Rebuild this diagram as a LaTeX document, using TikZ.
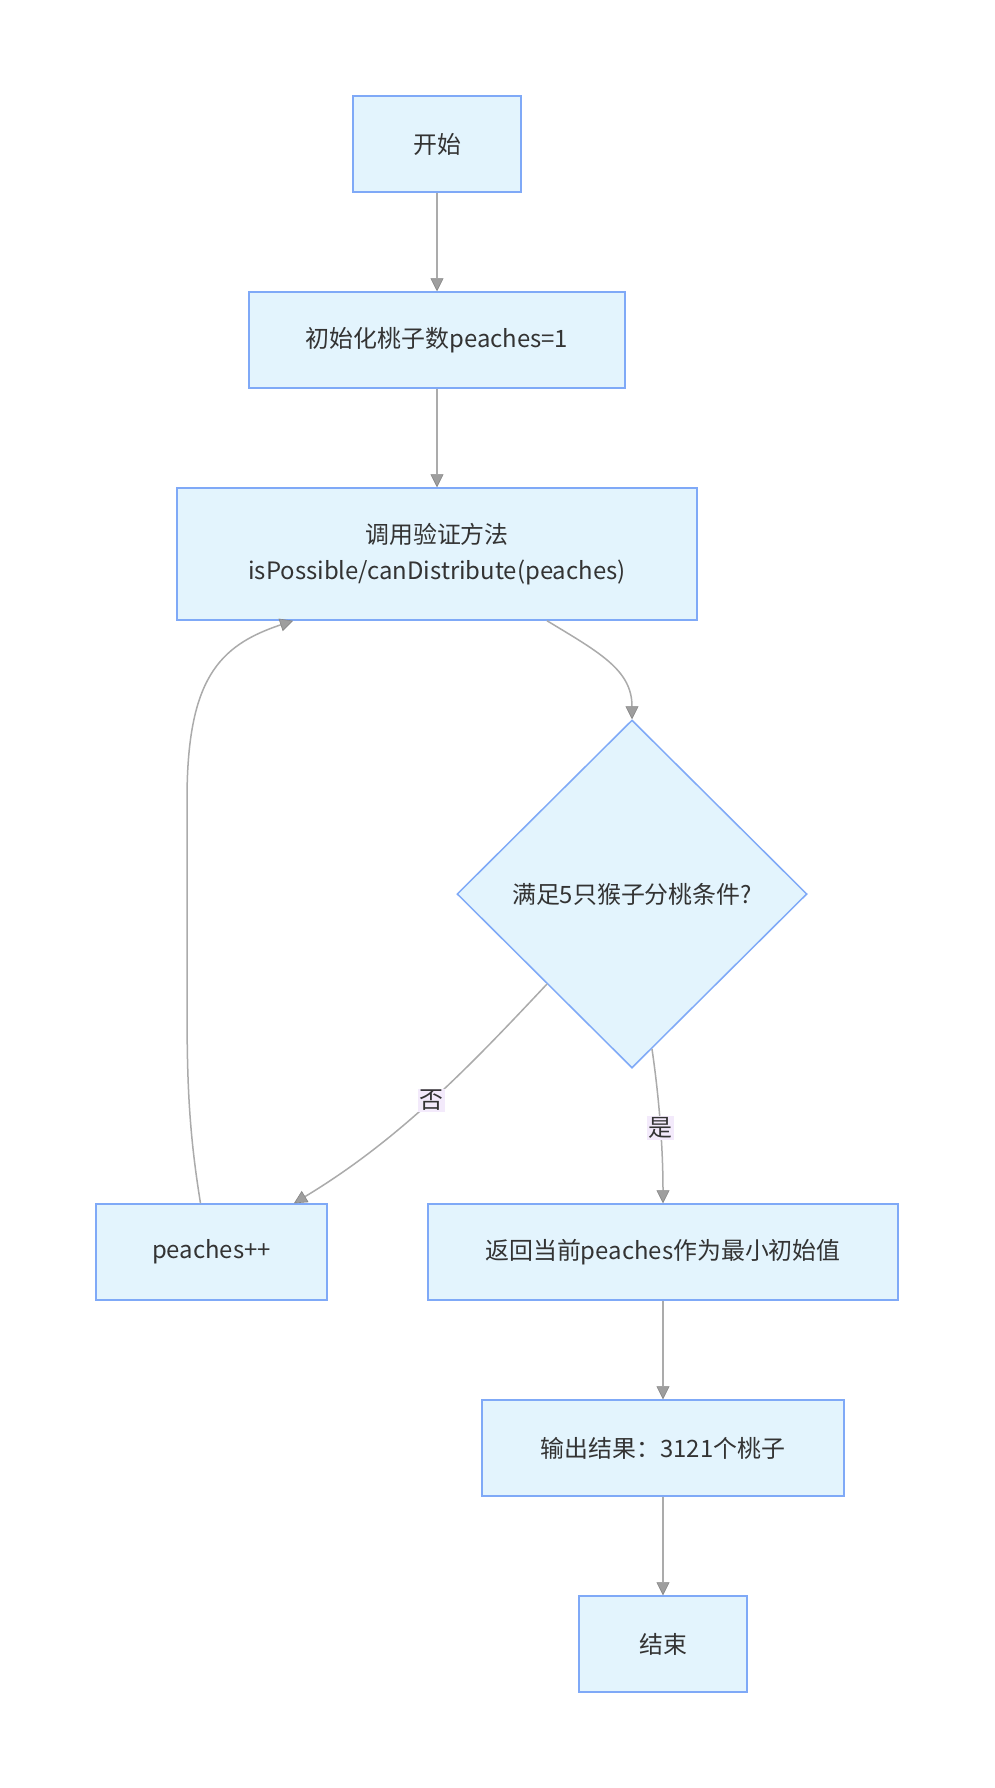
\documentclass[tikz,border=0pt]{standalone}
\usepackage{fontspec}
\setmainfont{Noto Sans CJK SC}
\usetikzlibrary{shapes.geometric,arrows.meta}
\definecolor{nodefill}{HTML}{E3F4FD}
\definecolor{nodeborder}{HTML}{7FA9F7}
\definecolor{edgecol}{HTML}{ABABAB}
\definecolor{tipcol}{HTML}{9E9E9E}
\definecolor{lblbg}{HTML}{F3EAFB}
\definecolor{txt}{HTML}{333333}
\begin{document}
\begin{tikzpicture}[x=1bp,y=-1bp,
  box/.style={draw=nodeborder,fill=nodefill,line width=1.5bp,text=txt,
    font=\fontsize{24}{36}\selectfont,inner sep=0,align=center,
    minimum height=96bp},
  dec/.style={draw=nodeborder,fill=nodefill,line width=1.5bp,text=txt,
    font=\fontsize{24}{36}\selectfont,inner sep=0,shape=diamond,
    minimum width=350bp,minimum height=348bp},
  edge/.style={draw=edgecol,line width=1.5bp,
    -{Triangle[length=13bp,width=13bp,fill=tipcol,color=tipcol!85!black,line width=0.6bp]}},
  lbl/.style={fill=lblbg,text=txt,font=\fontsize{24}{30}\selectfont,inner sep=1.5bp}]
\useasboundingbox[fill=white] (0,0) rectangle (994,1788);

\node[box,minimum width=168bp] (start) at (437,144) {开始};
\node[box,minimum width=376bp] (init) at (437,340) {初始化桃子数peaches=1};
\node[box,minimum width=520bp,minimum height=132bp] (call) at (437,554)
  {调用验证方法\\isPossible/canDistribute(peaches)};
\node[dec] (cond) at (632,894) {满足5只猴子分桃条件?};
\node[box,minimum width=231bp] (inc) at (211.5,1252) {peaches++};
\node[box,minimum width=470bp] (ret) at (663,1252) {返回当前peaches作为最小初始值};
\node[box,minimum width=362bp] (out) at (663,1448) {输出结果：3121个桃子};
\node[box,minimum width=168bp] (stop) at (663,1644) {结束};

\coordinate (noS) at (547,984);
\coordinate (yesS) at (652,1049);

\draw[edge] (start) -- (init);
\draw[edge] (init) -- (call);
\draw[edge] ([xshift=110bp]call.south) .. controls +(53,32) and +(0,-49) .. (cond.north);
\draw[edge] (noS) .. controls +(-77,82) and +(106,-64) .. ([xshift=82.5bp]inc.north)
  node[pos=0.5,lbl] {否};
\draw[edge] (yesS) .. controls +(8,55) and +(0,-50) .. (ret.north)
  node[pos=0.5,lbl] {是};
\draw[edge] ([xshift=-11bp]inc.north) .. controls +(-12,-74) and +(0,80) .. (187,1000) -- (187,800)
  .. controls +(0,-120) and +(-75,25) .. ([xshift=-144bp]call.south);
\draw[edge] (ret) -- (out);
\draw[edge] (out) -- (stop);
\end{tikzpicture}
\end{document}
